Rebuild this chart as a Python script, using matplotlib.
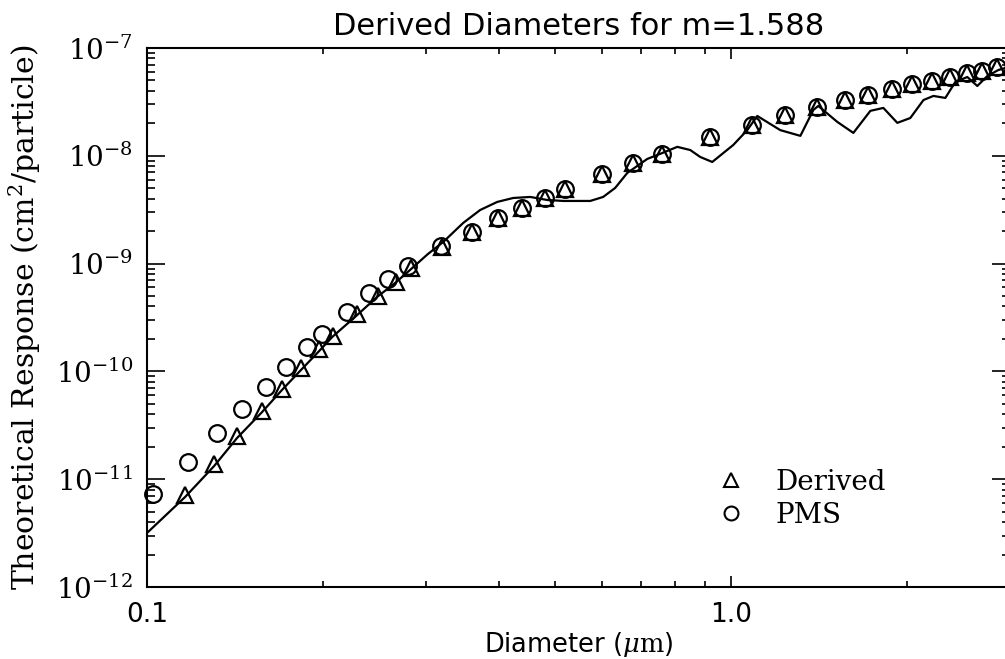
import matplotlib
matplotlib.use("Agg")
import matplotlib.pyplot as plt
from matplotlib.ticker import LogLocator, FixedLocator, FixedFormatter, NullFormatter
from matplotlib.lines import Line2D

plt.rcParams["mathtext.fontset"] = "dejavuserif"

# Mie theory response curve (diameter in um, response in cm^2/particle)
curve_d = [0.100, 0.1162, 0.1302, 0.1426, 0.1574, 0.1702, 0.1828, 0.1963, 0.2074,
           0.2289, 0.2476, 0.2659, 0.2820, 0.3027, 0.3213, 0.3476, 0.3717, 0.3975,
           0.4234, 0.4528, 0.4841, 0.5157, 0.5736, 0.6035, 0.6328, 0.6636, 0.7180,
           0.7616, 0.8084, 0.8508, 0.8848, 0.9278, 0.9690, 1.008, 1.065, 1.108,
           1.213, 1.313, 1.382, 1.409, 1.519, 1.618, 1.730, 1.821, 1.924, 2.025,
           2.133, 2.218, 2.325, 2.418, 2.535, 2.637, 2.744, 2.866, 2.946]
curve_r = [3.17e-12, 6.84e-12, 1.32e-11, 2.41e-11, 4.20e-11, 6.72e-11, 1.01e-10, 1.51e-10, 2.08e-10,
           3.33e-10, 4.90e-10, 6.61e-10, 8.73e-10, 1.23e-9, 1.585e-9, 2.38e-9, 3.14e-9, 3.73e-9,
           4.06e-9, 4.15e-9, 3.89e-9, 3.81e-9, 3.81e-9, 4.15e-9, 5.03e-9, 6.92e-9, 9.34e-9,
           1.06e-8, 1.21e-8, 1.13e-8, 9.75e-9, 8.76e-9, 1.06e-8, 1.26e-8, 1.73e-8, 2.34e-8,
           1.73e-8, 1.53e-8, 2.66e-8, 2.90e-8, 2.06e-8, 1.63e-8, 2.61e-8, 2.78e-8, 2.02e-8, 2.24e-8,
           3.29e-8, 3.59e-8, 3.44e-8, 4.84e-8, 5.38e-8, 4.44e-8, 5.50e-8, 6.25e-8, 6.52e-8]

# Derived diameters (triangles)
derived_d = [0.1162, 0.1302, 0.1426, 0.1574, 0.1702, 0.1835, 0.1971, 0.2083, 0.2289,
             0.2486, 0.2670, 0.2832, 0.3200, 0.3602, 0.3990, 0.4385, 0.4804, 0.5196,
             0.6013, 0.6795, 0.7616, 0.9205, 1.086, 1.237, 1.404, 1.567, 1.717,
             1.887, 2.042, 2.209, 2.371, 2.535, 2.691, 2.855]
derived_r = [7.13e-12, 1.38e-11, 2.52e-11, 4.30e-11, 6.87e-11, 1.08e-10, 1.61e-10, 2.13e-10, 3.40e-10,
             5.00e-10, 6.75e-10, 9.10e-10, 1.43e-9, 1.96e-9, 2.65e-9, 3.28e-9, 4.06e-9, 4.92e-9,
             6.78e-9, 8.57e-9, 1.04e-8, 1.49e-8, 1.93e-8, 2.39e-8, 2.84e-8, 3.30e-8, 3.66e-8,
             4.17e-8, 4.64e-8, 4.94e-8, 5.38e-8, 5.86e-8, 6.12e-8, 6.67e-8]

# PMS nominal diameters (circles)
pms_d = [0.1024, 0.1176, 0.1318, 0.1455, 0.1599, 0.1730, 0.1879, 0.1994, 0.2199,
         0.2399, 0.2587, 0.2799, 0.3187, 0.3602, 0.3990, 0.4385, 0.4804, 0.5196,
         0.6013, 0.6795, 0.7616, 0.9205, 1.086, 1.237, 1.404, 1.567, 1.717,
         1.887, 2.042, 2.209, 2.371, 2.535, 2.691, 2.855]
pms_r = [7.29e-12, 1.44e-11, 2.68e-11, 4.48e-11, 7.16e-11, 1.10e-10, 1.68e-10, 2.22e-10, 3.56e-10,
         5.33e-10, 7.20e-10, 9.50e-10, 1.46e-9, 1.96e-9, 2.65e-9, 3.28e-9, 4.06e-9, 4.92e-9,
         6.78e-9, 8.57e-9, 1.04e-8, 1.49e-8, 1.93e-8, 2.39e-8, 2.84e-8, 3.30e-8, 3.66e-8,
         4.17e-8, 4.64e-8, 4.94e-8, 5.38e-8, 5.86e-8, 6.12e-8, 6.67e-8]

x_ticks = [0.1, 1.0]
x_tick_labels = ["0.1", "1.0"]
y_ticks = [1e-12, 1e-11, 1e-10, 1e-9, 1e-8, 1e-7]
y_tick_labels = [r"$10^{-12}$", r"$10^{-11}$", r"$10^{-10}$", r"$10^{-9}$", r"$10^{-8}$", r"$10^{-7}$"]

fig = plt.figure(figsize=(10.05, 6.59), dpi=100)
ax = fig.add_axes([0.1463, 0.1093, 0.8587, 0.8179])

ax.plot(curve_d, curve_r, "k-", lw=1.6, clip_on=True)
ax.plot(pms_d, pms_r, "o", ms=12, mfc="none", mec="k", mew=1.6, clip_on=False)
ax.plot(derived_d, derived_r, "^", ms=11, mfc="none", mec="k", mew=1.6, clip_on=False)

ax.set_xscale("log")
ax.set_yscale("log")
ax.set_xlim(0.1, 3.0)
ax.set_ylim(1e-12, 1e-7)

ax.xaxis.set_major_locator(FixedLocator(x_ticks))
ax.xaxis.set_major_formatter(FixedFormatter(x_tick_labels))
ax.xaxis.set_minor_locator(LogLocator(base=10, subs=range(2, 10)))
ax.xaxis.set_minor_formatter(NullFormatter())
ax.yaxis.set_major_locator(FixedLocator(y_ticks))
ax.yaxis.set_major_formatter(FixedFormatter(y_tick_labels))
ax.yaxis.set_minor_locator(LogLocator(base=10, subs=range(2, 10)))
ax.yaxis.set_minor_formatter(NullFormatter())

for s in ax.spines.values():
    s.set_linewidth(1.5)
ax.tick_params(which="both", direction="in", top=True, right=True, width=1.2)
ax.tick_params(axis="x", which="major", length=8, pad=11, labelsize=19)
ax.tick_params(axis="x", which="minor", length=4)
ax.tick_params(axis="y", which="major", length=13, pad=10, labelsize=20)
ax.tick_params(axis="y", which="minor", length=6)
for lab in ax.get_xticklabels():
    lab.set_family("DejaVu Sans")

ax.set_title("Derived Diameters for m=1.588", fontsize=22, pad=9)
ax.set_xlabel(r"Diameter ($\mu\mathrm{m}$)", fontsize=18.5, labelpad=1)
ax.set_ylabel("Theoretical Response (cm$^{2}$/particle)", fontsize=21.5, family="DejaVu Serif", labelpad=9)

handles = [Line2D([], [], ls="none", marker="^", ms=10, mfc="none", mec="k", mew=1.5),
           Line2D([], [], ls="none", marker="o", ms=10, mfc="none", mec="k", mew=1.5)]
leg = ax.legend(handles, ["Derived", "PMS"], loc="upper left", bbox_to_anchor=(0.616, 0.265),
                frameon=False, handletextpad=0.6, labelspacing=0.2,
                prop={"family": "DejaVu Serif", "size": 20})

fig.savefig("out.png", dpi=100)
